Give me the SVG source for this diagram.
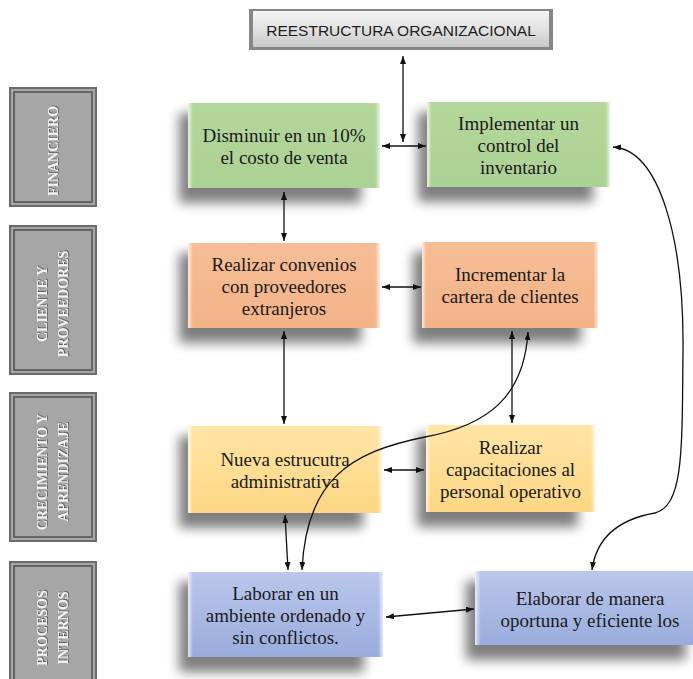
<svg xmlns="http://www.w3.org/2000/svg" width="693" height="679" viewBox="0 0 693 679">
  <defs>
    <style>
      .obj { font-family: "Liberation Serif", "Times New Roman", serif; font-size: 19px; fill: #1a1a1a; text-anchor: middle; }
      .lab { font-family: "Liberation Serif", "Times New Roman", serif; font-size: 14px; font-weight: bold; fill: #f4f4f4; text-anchor: middle; filter: url(#emboss); }
      .head { font-family: "Liberation Sans", Arial, sans-serif; font-size: 15.5px; fill: #1e1e1e; text-anchor: middle; }
      .shadow { fill: #000; opacity: 0.5; filter: url(#soft); }
      .bevel { fill: url(#bevel); }
      .frame-out { fill: #a6a6a6; stroke: #6b6b6b; stroke-width: 2; }
      .frame-in { fill: none; stroke: #505050; stroke-width: 1.5; }
      .link { fill: none; stroke: #111; stroke-width: 1.3; marker-start: url(#tip); marker-end: url(#tip); }
    </style>
    <filter id="soft" x="-30%" y="-30%" width="160%" height="160%">
      <feGaussianBlur stdDeviation="6"/>
    </filter>
    <filter id="emboss" x="-10%" y="-10%" width="120%" height="120%">
      <feDropShadow dx="0.8" dy="0.8" stdDeviation="0.4" flood-color="#4a4a4a" flood-opacity="0.9"/>
    </filter>
    <marker id="tip" viewBox="0 0 8 6" refX="8" refY="3" markerWidth="8" markerHeight="6" markerUnits="userSpaceOnUse" orient="auto-start-reverse">
      <path d="M0,0 L8,3 L0,6 z" fill="#111"/>
    </marker>
    <!-- light vertical edges on the coloured boxes -->
    <linearGradient id="bevel" x1="0" y1="0" x2="1" y2="0">
      <stop offset="0" stop-color="#fff" stop-opacity="0.75"/>
      <stop offset="0.025" stop-color="#fff" stop-opacity="0.1"/>
      <stop offset="0.975" stop-color="#fff" stop-opacity="0.1"/>
      <stop offset="1" stop-color="#fff" stop-opacity="0.75"/>
    </linearGradient>
    <linearGradient id="gGreen" x1="0" y1="0" x2="0" y2="1">
      <stop offset="0" stop-color="#acd391"/>
      <stop offset="1" stop-color="#a3cc88"/>
    </linearGradient>
    <linearGradient id="gOrange" x1="0" y1="0" x2="0" y2="1">
      <stop offset="0" stop-color="#f5b68a"/>
      <stop offset="1" stop-color="#f2ab7b"/>
    </linearGradient>
    <linearGradient id="gYellow" x1="0" y1="0" x2="0" y2="1">
      <stop offset="0" stop-color="#ffe29c"/>
      <stop offset="1" stop-color="#fdd276"/>
    </linearGradient>
    <linearGradient id="gBlue" x1="0" y1="0" x2="0" y2="1">
      <stop offset="0" stop-color="#b3c1e8"/>
      <stop offset="1" stop-color="#8ea3d9"/>
    </linearGradient>
    <linearGradient id="gHead" x1="0" y1="0" x2="0" y2="1">
      <stop offset="0" stop-color="#f4f4f4"/>
      <stop offset="0.5" stop-color="#e2e2e2"/>
      <stop offset="1" stop-color="#c9c9c9"/>
    </linearGradient>
  </defs>

  <rect width="693" height="679" fill="#fff"/>

  <!-- title bar -->
  <g id="header">
    <rect x="249" y="9" width="304" height="41" fill="#868686"/>
    <rect x="253" y="11" width="296" height="36" fill="url(#gHead)"/>
    <text class="head" x="401" y="36">REESTRUCTURA ORGANIZACIONAL</text>
  </g>

  <!-- perspective row labels -->
  <g id="lbl-financiero">
    <rect class="frame-out" x="10" y="88" width="86" height="118"/>
    <rect class="frame-in" x="14" y="92" width="78" height="110"/>
    <text class="lab" transform="translate(53,151) rotate(-90)" x="0" y="5">FINANCIERO</text>
  </g>
  <g id="lbl-cliente">
    <rect class="frame-out" x="10" y="226" width="86" height="148"/>
    <rect class="frame-in" x="14" y="230" width="78" height="140"/>
    <text class="lab" transform="translate(53,304) rotate(-90)" x="0" y="-6">CLIENTE Y</text>
    <text class="lab" transform="translate(53,304) rotate(-90)" x="0" y="15">PROVEEDORES</text>
  </g>
  <g id="lbl-crecimiento">
    <rect class="frame-out" x="10" y="393" width="86" height="148"/>
    <rect class="frame-in" x="14" y="397" width="78" height="140"/>
    <text class="lab" transform="translate(53,472) rotate(-90)" x="0" y="-6">CRECIMIENTO Y</text>
    <text class="lab" transform="translate(53,472) rotate(-90)" x="0" y="15">APRENDIZAJE</text>
  </g>
  <g id="lbl-procesos">
    <rect class="frame-out" x="10" y="562" width="86" height="130"/>
    <rect class="frame-in" x="14" y="566" width="78" height="122"/>
    <text class="lab" transform="translate(53,628) rotate(-90)" x="0" y="-6">PROCESOS</text>
    <text class="lab" transform="translate(53,628) rotate(-90)" x="0" y="15">INTERNOS</text>
  </g>

  <!-- objectives -->
  <g id="n-disminuir">
    <rect class="shadow" x="179" y="113" width="182" height="90"/>
    <rect x="188" y="103" width="192" height="85" fill="url(#gGreen)"/>
    <rect class="bevel" x="188" y="103" width="192" height="85"/>
    <text class="obj" x="284" y="142">Disminuir en un 10%</text>
    <text class="obj" x="284" y="164">el costo de venta</text>
  </g>
  <g id="n-implementar">
    <rect class="shadow" x="418" y="112" width="175" height="90"/>
    <rect x="427" y="102" width="183" height="85" fill="url(#gGreen)"/>
    <rect class="bevel" x="427" y="102" width="183" height="85"/>
    <text class="obj" x="518.5" y="129.5">Implementar un</text>
    <text class="obj" x="518.5" y="151.5">control del</text>
    <text class="obj" x="518.5" y="173.5">inventario</text>
  </g>
  <g id="n-convenios">
    <rect class="shadow" x="179" y="253" width="182" height="90"/>
    <rect x="188" y="243" width="192" height="85" fill="url(#gOrange)"/>
    <rect class="bevel" x="188" y="243" width="192" height="85"/>
    <text class="obj" x="284" y="270.5">Realizar convenios</text>
    <text class="obj" x="284" y="292.5">con proveedores</text>
    <text class="obj" x="284" y="314.5">extranjeros</text>
  </g>
  <g id="n-cartera">
    <rect class="shadow" x="413" y="252" width="168" height="91"/>
    <rect x="422" y="242" width="176" height="86" fill="url(#gOrange)"/>
    <rect class="bevel" x="422" y="242" width="176" height="86"/>
    <text class="obj" x="510" y="281">Incrementar la</text>
    <text class="obj" x="510" y="303">cartera de clientes</text>
  </g>
  <g id="n-estructura">
    <rect class="shadow" x="179" y="436" width="184" height="92"/>
    <rect x="188" y="426" width="194" height="87" fill="url(#gYellow)"/>
    <rect class="bevel" x="188" y="426" width="194" height="87"/>
    <text class="obj" x="285" y="465.5">Nueva estrucutra</text>
    <text class="obj" x="285" y="487.5">administrativa</text>
  </g>
  <g id="n-capacitaciones">
    <rect class="shadow" x="417" y="435" width="161" height="92"/>
    <rect x="426" y="425" width="169" height="87" fill="url(#gYellow)"/>
    <rect class="bevel" x="426" y="425" width="169" height="87"/>
    <text class="obj" x="510.5" y="453.5">Realizar</text>
    <text class="obj" x="510.5" y="475.5">capacitaciones al</text>
    <text class="obj" x="510.5" y="497.5">personal operativo</text>
  </g>
  <g id="n-laborar">
    <rect class="shadow" x="179" y="582" width="185" height="90"/>
    <rect x="188" y="572" width="195" height="85" fill="url(#gBlue)"/>
    <rect class="bevel" x="188" y="572" width="195" height="85"/>
    <text class="obj" x="285.5" y="599.5">Laborar en un</text>
    <text class="obj" x="285.5" y="621.5">ambiente ordenado y</text>
    <text class="obj" x="285.5" y="643.5">sin conflictos.</text>
  </g>
  <g id="n-elaborar">
    <rect class="shadow" x="466" y="581" width="220" height="79"/>
    <rect x="475" y="571" width="230" height="74" fill="url(#gBlue)"/>
    <rect class="bevel" x="475" y="571" width="230" height="74"/>
    <text class="obj" x="590" y="605">Elaborar de manera</text>
    <text class="obj" x="590" y="627">oportuna y eficiente los</text>
  </g>

  <!-- connectors -->
  <g id="connectors">
    <path class="link" d="M403,56 L403,142"/>
    <path class="link" d="M382,146 L426,146"/>
    <path class="link" d="M284,192 L284,241"/>
    <path class="link" d="M382,287 L421,287"/>
    <path class="link" d="M284,331 L284,424"/>
    <path class="link" d="M512,331 L512,423"/>
    <path class="link" d="M384,470 L424,470"/>
    <path class="link" d="M285,515 L288,570"/>
    <path class="link" d="M386,617 L474,609"/>
    <path class="link" d="M528,332 C524,395 490,425 425,437 C350,452 306,480 302,570"/>
    <path class="link" d="M613,147 C660,150 684,240 683,350 C682,450 684,505 655,513 C615,520 596,540 592,570"/>
  </g>
</svg>
